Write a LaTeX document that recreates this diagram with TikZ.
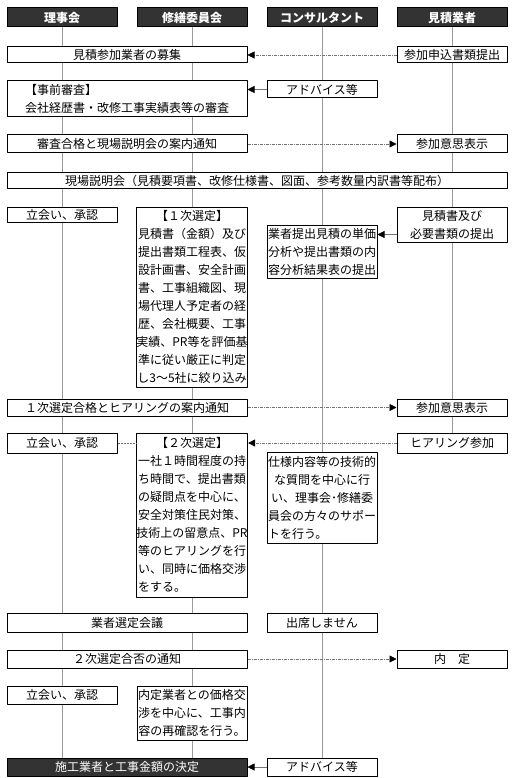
\documentclass[tikz,border=0pt]{standalone}
\usepackage{fontspec}
\setmainfont{Noto Sans CJK JP}
\usetikzlibrary{arrows.meta}
\definecolor{headgray}{HTML}{333333}
\begin{document}
\begin{tikzpicture}[x=1pt,y=-1pt,line join=round,
    box/.style={draw,line width=1pt,fill=white,inner sep=0pt,align=center,
      font=\fontsize{12}{18}\selectfont,minimum width=110pt},
    wide/.style={box,minimum width=240pt},
    head/.style={box,fill=headgray,text=white,minimum height=19pt,
      font=\fontsize{12}{18}\selectfont\bfseries},
    life/.style={black!40,line width=0.6pt},
    link/.style={black!55,dash pattern=on 2pt off 1pt,line width=0.7pt},
    msg/.style={black!55,dash pattern=on 3pt off 1pt on 1pt off 1pt,line width=0.7pt,
      -{Triangle[length=7pt,width=7pt,color=black]}},
    tie/.style={black!55,line width=0.7pt,-{Triangle[length=7pt,width=7pt,color=black]}}]
  \useasboundingbox (0,0) rectangle (515,778);
  \def\ca{62} \def\cb{192} \def\cc{322} \def\cd{452} \def\cw{127}
  % lanes
  \foreach \n/\x/\t in {hR/\ca/理事会,hS/\cb/修繕委員会,hC/\cc/コンサルタント,hM/\cd/見積業者}
    \node[head] (\n) at (\x,17.5) {\t};
  % step 1
  \node[wide,minimum height=16pt] (boshu) at (\cw,55) {見積参加業者の募集};
  \node[box,minimum height=16pt] (moshikomi) at (\cd,55) {参加申込書類提出};
  \node[wide,minimum height=36pt,align=left] (jizen) at (\cw,99) {【事前審査】\\会社経歴書・改修工事実績表等の審査};
  \node[box,minimum height=17pt] (advA) at (\cc,89.5) {アドバイス等};
  \node[wide,minimum height=18pt] (tsuchiA) at (\cw,144) {審査合格と現場説明会の案内通知};
  \node[box,minimum height=18pt] (ishiA) at (\cd,144) {参加意思表示};
  \node[box,minimum width=500pt,minimum height=16pt] (genba) at (257,180.5) {現場説明会（見積要項書、改修仕様書、図面、参考数量内訳書等配布）};
  % 1st selection
  \node[box,minimum height=15pt] (tachiA) at (\ca,214.5) {立会い、承認};
  \node[box,minimum height=180pt] (senA) at (\cb,297) {【１次選定】\\見積書（金額）及び\\提出書類工程表、仮\\設計画書、安全計画\\書、工事組織図、現\\場代理人予定者の経\\歴、会社概要、工事\\実績、PR等を評価基\\準に従い厳正に判定\\し3〜5社に絞り込み};
  \node[box,minimum height=53pt] (bunseki) at (\cc,251.5) {業者提出見積の単価\\分析や提出書類の内\\容分析結果表の提出};
  \node[box,minimum height=35pt] (mitsumori) at (\cd,224.5) {見積書及び\\必要書類の提出};
  \node[wide,minimum height=17pt] (tsuchiB) at (\cw,407.5) {１次選定合格とヒアリングの案内通知};
  \node[box,minimum height=17pt] (ishiB) at (\cd,407.5) {参加意思表示};
  % 2nd selection
  \node[box,minimum height=20pt] (tachiB) at (\ca,443) {立会い、承認};
  \node[box,minimum height=164pt] (senB) at (\cb,515) {【２次選定】\\一社１時間程度の持\\ち時間で、提出書類\\の疑問点を中心に、\\安全対策住民対策、\\技術上の留意点、PR\\等のヒアリングを行\\い、同時に価格交渉\\\makebox[108pt][l]{をする。}};
  \node[box,minimum height=20pt] (hearing) at (\cd,443) {ヒアリング参加};
  \node[box,minimum height=91pt] (support) at (\cc,497.5) {仕様内容等の技術的\\な質問を中心に行\\い、理事会･修繕委\\員会の方々のサポー\\\makebox[108pt][l]{トを行う。}};
  \node[wide,minimum height=19pt] (kaigi) at (\cw,622.5) {業者選定会議};
  \node[box,minimum height=19pt] (kesseki) at (\cc,622.5) {出席しません};
  \node[wide,minimum height=18pt] (tsuchiC) at (\cw,659) {２次選定合否の通知};
  \node[box,minimum height=18pt] (naitei) at (\cd,659) {内　定};
  \node[box,minimum height=18pt] (tachiC) at (\ca,695) {立会い、承認};
  \node[box,minimum height=54pt] (kosho) at (\cb,713) {内定業者との価格交\\渉を中心に、工事内\\容の再確認を行う。};
  \node[wide,minimum height=18pt,fill=headgray,text=white] (kettei) at (\cw,767) {施工業者と工事金額の決定};
  \node[box,minimum height=18pt] (advB) at (\cc,767) {アドバイス等};
  % lifelines between the boxes of each lane
  \foreach \a/\b in {hR/boshu,boshu/jizen,jizen/tsuchiA,tsuchiA/genba,genba/tachiA,tachiA/tsuchiB,
      tsuchiB/tachiB,tachiB/kaigi,kaigi/tsuchiC,tsuchiC/tachiC,tachiC/kettei}
    \draw[life] (hR.south |- \a.south) -- (hR.south |- \b.north);
  \foreach \a/\b in {hS/boshu,boshu/jizen,jizen/tsuchiA,tsuchiA/genba,genba/senA,senA/tsuchiB,
      tsuchiB/senB,senB/kaigi,kaigi/tsuchiC,tsuchiC/kosho,kosho/kettei}
    \draw[life] (hS.south |- \a.south) -- (hS.south |- \b.north);
  \foreach \a/\b in {hC/advA,advA/genba,genba/bunseki,bunseki/support,support/kesseki,kesseki/advB}
    \draw[life] (hC.south |- \a.south) -- (hC.south |- \b.north);
  \foreach \a/\b in {hM/moshikomi,moshikomi/ishiA,ishiA/genba,genba/mitsumori,mitsumori/ishiB,ishiB/hearing}
    \draw[life] (hM.south |- \a.south) -- (hM.south |- \b.north);
  % messages
  \draw[msg] (moshikomi.west) -- (moshikomi.west -| boshu.east);
  \draw[tie] (advA.west) -- (advA.west -| jizen.east);
  \draw[msg] (tsuchiA.east) -- (ishiA.west);
  \draw[tie] ([yshift=8pt]mitsumori.south west) -- ([yshift=8pt]mitsumori.south west -| bunseki.east);
  \draw[msg] (tsuchiB.east) -- (ishiB.west);
  \draw[link] (tachiB.east) -- (tachiB.east -| senB.west);
  \draw[msg] (hearing.west) -- (hearing.west -| senB.east);
  \draw[msg] (tsuchiC.east) -- (naitei.west);
  \draw[tie] (advB.west) -- (advB.west -| kettei.east);
\end{tikzpicture}
\end{document}
